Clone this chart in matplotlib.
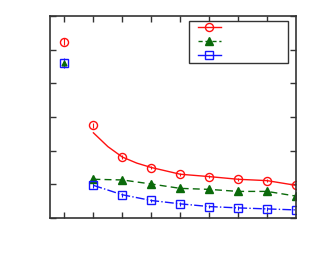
import matplotlib
matplotlib.use("Agg")
import matplotlib.pyplot as plt
from matplotlib.lines import Line2D
from matplotlib.patches import Rectangle

# Data
x_iso = [1]
red_iso = [5.24]
green_iso = [4.60]
blue_iso = [4.60]
iso_err = [0.10, 0.10, 0.14]

x = [2, 3, 4, 5, 6, 7, 8, 9]
red = [2.75, 1.81, 1.50, 1.30, 1.23, 1.15, 1.11, 0.97]
green = [1.15, 1.13, 1.01, 0.88, 0.85, 0.79, 0.79, 0.65]
blue = [0.97, 0.69, 0.52, 0.42, 0.34, 0.30, 0.27, 0.24]
err = [0.08, 0.06, 0.05, 0.05, 0.05, 0.05, 0.05, 0.05]

x_fit = [2, 2.5, 3, 3.5, 4, 5, 6, 7, 8, 9]
red_fit = [2.53, 2.12, 1.81, 1.63, 1.50, 1.30, 1.23, 1.15, 1.11, 0.97]

RED = "#ff1010"
GREEN = "#0a6a0a"
BLUE = "#1515ff"

fig = plt.figure(figsize=(3.13, 2.63), dpi=100)
ax = fig.add_axes([50/313, 1-218/263, 246/313, 202/263])

ms = 5.8
# fit curve
ax.plot(x_fit, red_fit, color=RED, lw=1.0)
ax.errorbar(x, red, yerr=err, fmt="o", color=RED, mfc="none", ms=ms, mew=1.0, elinewidth=0.8, capsize=0)
ax.errorbar(x, green, yerr=err, fmt="^", ls="--", color=GREEN, ms=ms-0.5, lw=1.0, elinewidth=0.8, capsize=0,
            dashes=(5, 3))
ax.errorbar(x, blue, yerr=err, fmt="s", ls="-.", color=BLUE, mfc="none", ms=ms-0.3, mew=1.0, lw=1.0,
            elinewidth=0.8, capsize=0)

ax.errorbar(x_iso, red_iso, yerr=[iso_err[0]], fmt="o", color=RED, mfc="none", ms=ms, mew=1.0, elinewidth=0.8)
ax.errorbar(x_iso, green_iso, yerr=[iso_err[1]], fmt="^", color=GREEN, ms=3.5, elinewidth=0.8)
ax.errorbar(x_iso, blue_iso, yerr=[iso_err[2]], fmt="s", color=BLUE, mfc="none", ms=ms-0.3, mew=1.0, elinewidth=0.8)

ax.set_xlim(0.5, 9)
ax.set_ylim(0, 6)
ax.set_xticks(range(1, 9))
ax.set_yticks(range(0, 7))
ax.tick_params(direction="in", top=True, right=True, labelbottom=False, labelleft=False,
               length=4, width=1, color="#333333")
for s in ax.spines.values():
    s.set_color("#333333")
    s.set_linewidth(1.2)

# legend frame
ax.add_patch(Rectangle((0.566, 0.769), 0.40, 0.208, transform=ax.transAxes, fill=True,
                       facecolor="white", edgecolor="#333333", lw=1.0, zorder=4, clip_on=False))
handles = [
    Line2D([], [], color=RED, marker="o", mfc="none", ms=ms, lw=1.0),
    Line2D([], [], color=GREEN, marker="^", ls="--", ms=ms-0.5, lw=1.0, dashes=(3, 2)),
    Line2D([], [], color=BLUE, marker="s", mfc="none", ms=ms-0.3, lw=1.0),
]
leg = ax.legend(handles, ["", "", ""], loc="upper left",
                bbox_to_anchor=(0.600, 0.968), frameon=False,
                handlelength=2.4, borderpad=0, labelspacing=0.42, handletextpad=0.0,
                borderaxespad=0, fontsize=7)
leg.set_zorder(5)

fig.savefig("out.png", dpi=100)
